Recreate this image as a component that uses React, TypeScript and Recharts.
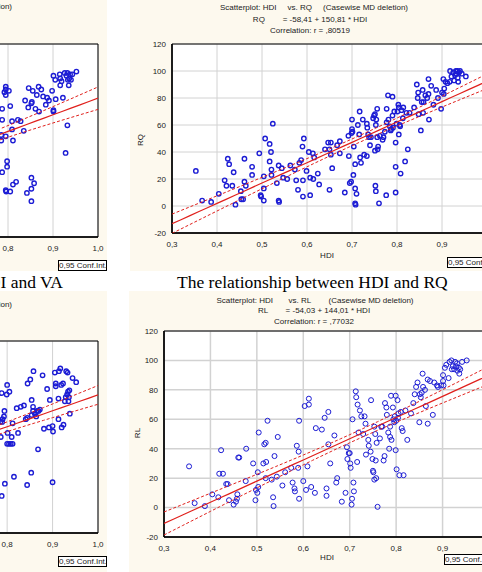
import React from "react";
import { CartesianGrid, ReferenceArea, Scatter, ScatterChart, XAxis, YAxis } from "recharts";

// full-width panels: 1,0 sits on the frame; edge panels only show the top of the range
const X_TICKS = [0.3, 0.4, 0.5, 0.6, 0.7, 0.8, 0.9];
const X_TICKS_EDGE = [0.8, 0.9, 1.0];
const Y_TICKS = [-20, 0, 20, 40, 60, 80, 100, 120];

// HDI vs VA (only the upper HDI range of this panel is on the page)
const hdiVA = [
  0.787, 0.787, 0.795, 0.792, 0.795, 0.802, 0.795, 0.785, 0.785, 0.795, 0.805, 0.809, 0.809, 0.811, 0.798,
  0.798, 0.787, 0.795, 0.796, 0.805, 0.811, 0.818, 0.822, 0.828, 0.835, 0.838, 0.846, 0.845, 0.852, 0.853,
  0.855, 0.861, 0.864, 0.868, 0.869, 0.874, 0.878, 0.884, 0.887, 0.891, 0.898, 0.901, 0.901, 0.901, 0.905,
  0.906, 0.915, 0.916, 0.919, 0.916, 0.922, 0.926, 0.93, 0.932, 0.933, 0.936, 0.935, 0.938, 0.94, 0.943,
  0.952, 0.932, 0.928, 0.842, 0.852, 0.858, 0.852, 0.852,
];
const va = [
  73, 65, 89, 85, 83, 86, 87, 54, 50, 53, 75, 64, 58, 50, 35,
  31, 27, 14, 13, 13, 18, 20, 65, 64, 57, 79, 88, 74, 77, 78,
  86, 73, 83, 89, 71, 87, 82, 76, 81, 79, 86, 97, 72, 71, 94,
  80, 98, 95, 93, 90, 81, 99, 97, 99, 94, 95, 90, 98, 94, 98,
  100, 61, 41, 12, 23, 19, 15, 6,
];
const VA_FIT = { a: -39.8, b: 120.5 };
const VA_BAND = { n: 180, mean: 0.72, sxx: 3.6, s: 25 };

// HDI vs RQ
const hdiRQ = [
  0.353, 0.367, 0.387, 0.404, 0.417, 0.421, 0.424, 0.427, 0.434, 0.437, 0.441, 0.453, 0.454, 0.458, 0.461,
  0.461, 0.464, 0.478, 0.478, 0.494, 0.497, 0.498, 0.504, 0.504, 0.504, 0.507, 0.517, 0.517, 0.52, 0.521,
  0.521, 0.524, 0.533, 0.537, 0.537, 0.538, 0.544, 0.547, 0.556, 0.563, 0.573, 0.576, 0.58, 0.583, 0.587,
  0.59, 0.591, 0.591, 0.593, 0.599, 0.604, 0.607, 0.607, 0.613, 0.614, 0.616, 0.624, 0.627, 0.64, 0.647,
  0.65, 0.65, 0.653, 0.653, 0.656, 0.667, 0.673, 0.673, 0.684, 0.692, 0.693, 0.695, 0.698, 0.699, 0.7,
  0.7, 0.701, 0.703, 0.704, 0.707, 0.707, 0.707, 0.708, 0.71, 0.713, 0.716, 0.717, 0.718, 0.72, 0.724,
  0.727, 0.733, 0.733, 0.734, 0.736, 0.738, 0.74, 0.742, 0.747, 0.749, 0.751, 0.751, 0.752, 0.753, 0.753,
  0.754, 0.756, 0.756, 0.757, 0.758, 0.76, 0.762, 0.768, 0.77, 0.773, 0.776, 0.777, 0.777, 0.78, 0.781,
  0.784, 0.786, 0.787, 0.79, 0.79, 0.791, 0.794, 0.797, 0.797, 0.797, 0.799, 0.801, 0.803, 0.804, 0.804,
  0.806, 0.807, 0.808, 0.81, 0.813, 0.814, 0.818, 0.821, 0.824, 0.828, 0.838, 0.844, 0.846, 0.847, 0.848,
  0.853, 0.855, 0.857, 0.858, 0.859, 0.863, 0.867, 0.87, 0.87, 0.871, 0.876, 0.881, 0.887, 0.891, 0.898,
  0.9, 0.903, 0.904, 0.905, 0.908, 0.912, 0.917, 0.918, 0.921, 0.925, 0.927, 0.929, 0.931, 0.932, 0.934,
  0.935, 0.936, 0.938, 0.94, 0.944, 0.953,
];
const rq = [
  26, 4, 3, 9, 19, 15, 35, 31, 15, 25, 1, 11, 5, 5, 35,
  18, 15, 29, 23, 39, 8, 7, 22, 13, 4, 50, 46, 33, 40, 27,
  23, 61, 17, 30, 4, 3, 28, 21, 20, 30, 27, 19, 12, 32, 34,
  44, 19, 7, 50, 26, 40, 8, 21, 39, 20, 36, 24, 16, 42, 47,
  42, 12, 47, 38, 28, 45, 48, 39, 10, 52, 37, 17, 18, 54, 64,
  57, 55, 23, 44, 31, 13, 2, 1, 9, 60, 53, 70, 36, 32, 64,
  38, 37, 61, 58, 53, 51, 45, 51, 65, 67, 68, 41, 15, 11, 60,
  64, 51, 72, 42, 44, 2, 52, 49, 51, 55, 8, 72, 62, 82, 64,
  59, 56, 57, 81, 67, 58, 70, 47, 29, 10, 61, 70, 75, 73, 53,
  60, 59, 24, 71, 65, 73, 33, 69, 42, 69, 73, 90, 80, 84, 68,
  56, 77, 86, 69, 77, 82, 80, 83, 94, 64, 89, 75, 86, 80, 72,
  84, 94, 83, 87, 92, 91, 92, 100, 96, 99, 93, 97, 100, 98, 100,
  95, 92, 99, 100, 98, 96,
];
const RQ_FIT = { a: -58.41, b: 150.81 };

// HDI vs the lower-left indicator (only its upper HDI range is on the page)
const hdiGE = [
  0.788, 0.799, 0.8, 0.805, 0.794, 0.793, 0.79, 0.785, 0.789, 0.801, 0.81, 0.8, 0.804, 0.808, 0.812,
  0.786, 0.795, 0.815, 0.788, 0.812, 0.821, 0.824, 0.83, 0.837, 0.845, 0.841, 0.844, 0.851, 0.854, 0.858,
  0.857, 0.854, 0.857, 0.861, 0.864, 0.866, 0.869, 0.872, 0.868, 0.878, 0.881, 0.888, 0.892, 0.894, 0.9,
  0.901, 0.9, 0.905, 0.907, 0.907, 0.913, 0.914, 0.917, 0.913, 0.919, 0.923, 0.92, 0.924, 0.927, 0.929,
  0.93, 0.932, 0.933, 0.934, 0.935, 0.936, 0.937, 0.938, 0.944, 0.952, 0.844, 0.853,
];
const ge = [
  82, 81, 88, 83, 69, 65, 63, 61, 61, 53, 50, 45, 45, 45, 45,
  50, 16, 21, 7, 60, 71, 53, 72, 73, 89, 63, 64, 92, 77, 98,
  72, 66, 69, 67, 65, 69, 69, 70, 41, 95, 56, 85, 57, 77, 58,
  54, 17, 97, 89, 87, 63, 98, 100, 78, 88, 89, 57, 59, 76, 79,
  98, 81, 97, 83, 76, 79, 84, 67, 93, 90, 15, 24,
];
const GE_FIT = { a: -35.3, b: 116.0 };
const GE_BAND = { n: 180, mean: 0.72, sxx: 3.6, s: 21 };

// HDI vs RL
const hdiRL = [
  0.354, 0.366, 0.388, 0.404, 0.417, 0.419, 0.423, 0.427, 0.434, 0.437, 0.44, 0.45, 0.455, 0.457, 0.458,
  0.46, 0.462, 0.476, 0.477, 0.492, 0.497, 0.498, 0.501, 0.502, 0.503, 0.504, 0.514, 0.516, 0.519, 0.52,
  0.519, 0.523, 0.532, 0.535, 0.536, 0.538, 0.543, 0.545, 0.555, 0.561, 0.574, 0.577, 0.581, 0.582, 0.586,
  0.589, 0.59, 0.591, 0.591, 0.6, 0.603, 0.606, 0.609, 0.612, 0.612, 0.617, 0.625, 0.627, 0.64, 0.646,
  0.65, 0.65, 0.654, 0.654, 0.658, 0.667, 0.671, 0.673, 0.683, 0.691, 0.694, 0.695, 0.698, 0.7, 0.701,
  0.702, 0.704, 0.705, 0.706, 0.708, 0.709, 0.713, 0.714, 0.716, 0.717, 0.719, 0.722, 0.725, 0.729, 0.732,
  0.734, 0.735, 0.74, 0.741, 0.745, 0.746, 0.749, 0.75, 0.751, 0.753, 0.753, 0.755, 0.756, 0.757, 0.758,
  0.76, 0.765, 0.768, 0.77, 0.773, 0.775, 0.776, 0.779, 0.78, 0.783, 0.785, 0.787, 0.787, 0.789, 0.79,
  0.793, 0.794, 0.796, 0.797, 0.799, 0.799, 0.8, 0.801, 0.803, 0.804, 0.805, 0.807, 0.81, 0.812, 0.814,
  0.816, 0.82, 0.824, 0.832, 0.837, 0.84, 0.843, 0.846, 0.85, 0.851, 0.853, 0.855, 0.857, 0.858, 0.862,
  0.864, 0.868, 0.868, 0.873, 0.879, 0.882, 0.888, 0.89, 0.897, 0.901, 0.902, 0.901, 0.905, 0.908, 0.913,
  0.915, 0.919, 0.92, 0.922, 0.925, 0.927, 0.929, 0.931, 0.932, 0.935, 0.936, 0.938, 0.942, 0.952,
];
const rl = [
  28, 3, 1, 9, 7, 23, 39, 23, 16, 16, 5, 2, 4, 6, 9,
  34, 34, 18, 40, 30, 5, 12, 10, 24, 14, 51, 30, 43, 44, 31,
  20, 59, 19, 7, 1, 35, 21, 48, 15, 24, 27, 17, 13, 11, 42,
  27, 38, 6, 59, 18, 69, 12, 28, 74, 70, 14, 10, 54, 53, 61,
  13, 8, 65, 43, 30, 49, 17, 20, 4, 10, 41, 33, 37, 37, 30,
  27, 2, 6, 60, 17, 11, 79, 75, 31, 70, 51, 66, 62, 50, 62,
  57, 36, 46, 42, 38, 73, 33, 25, 24, 55, 19, 50, 32, 20, 44,
  0.5, 47, 55, 55, 32, 35, 71, 68, 63, 51, 40, 55, 48, 76, 46,
  68, 60, 58, 62, 39, 76, 59, 26, 73, 61, 64, 22, 65, 54, 52,
  22, 66, 46, 64, 71, 77, 82, 85, 58, 77, 75, 78, 91, 82, 80,
  69, 87, 57, 86, 63, 85, 83, 82, 83, 86, 83, 90, 95, 97, 88,
  99, 100, 94, 96, 94, 99, 96, 98, 93, 95, 91, 94, 99, 100,
];
const RL_FIT = { a: -54.03, b: 144.01 };

const BLUE = "#1c1cd4";
const RED = "#e0201c";
const PANEL = "#fdf9ee";
const SANS = '"Liberation Sans", Arial, sans-serif';
const SERIF = '"Liberation Serif", "Times New Roman", serif';
const T95 = 1.97;

// x positions used to trace the fitted line and its 95% band
const CURVE_X = Array.from({ length: 36 }, (_, i) => 0.3 + i * 0.02);

type Band = { n: number; mean: number; sxx: number; s: number };
type Fit = { a: number; b: number };

function bandFromData(xs: number[], ys: number[], fit: Fit): Band {
  const n = xs.length;
  const mean = xs.reduce((t, v) => t + v, 0) / n;
  const sxx = xs.reduce((t, v) => t + (v - mean) ** 2, 0);
  const sse = xs.reduce((t, v, i) => t + (ys[i] - fit.a - fit.b * v) ** 2, 0);
  return { n, mean, sxx, s: Math.sqrt(sse / (n - 2)) };
}

const fmtX = (v: number) => v.toFixed(1).replace(".", ",");
const TICK = { fontSize: 8, fill: "#222", fontFamily: SANS };

const noDot = () => <g />;

function Plot(props: {
  left: number;
  top: number;
  w: number;
  h: number;
  xs: number[];
  ys: number[];
  fit: Fit;
  band?: Band;
  edge?: boolean;
  r: number;
  sw: number;
  gridW: number;
}) {
  const { left, top, w, h, xs, ys, fit, r, sw, gridW, edge } = props;
  const band = props.band ?? bandFromData(xs, ys, fit);
  const pts = xs.map((x, i) => ({ x, y: ys[i] }));
  const half = (x: number) =>
    T95 * band.s * Math.sqrt(1 / band.n + (x - band.mean) ** 2 / band.sxx);
  const mid = CURVE_X.map((x) => ({ x, y: fit.a + fit.b * x }));
  const hi = CURVE_X.map((x) => ({ x, y: fit.a + fit.b * x + half(x) }));
  const lo = CURVE_X.map((x) => ({ x, y: fit.a + fit.b * x - half(x) }));

  const ring = (p: any) => (
    <circle cx={p.cx} cy={p.cy} r={r} fill="none" stroke={BLUE} strokeWidth={sw} />
  );

  return (
    <div style={{ position: "absolute", left: left - 36, top: top - 10 }}>
      <ScatterChart width={w + 46} height={h + 34} margin={{ top: 10, right: 10, bottom: 0, left: 0 }}>
        <CartesianGrid stroke="#d2d2d2" strokeWidth={gridW} fill="#fff" />
        <XAxis
          type="number"
          dataKey="x"
          domain={[0.3, 1.0]}
          ticks={edge ? X_TICKS_EDGE : X_TICKS}
          allowDataOverflow
          height={24}
          tickFormatter={fmtX}
          tick={TICK}
          tickLine={false}
          tickSize={4}
          tickMargin={4}
          axisLine={{ stroke: "#000", strokeWidth: 1.5 }}
        />
        <YAxis
          type="number"
          dataKey="y"
          domain={[-20, 120]}
          ticks={Y_TICKS}
          allowDataOverflow
          width={36}
          tick={edge ? false : TICK}
          tickLine={false}
          tickSize={3}
          tickMargin={3}
          axisLine={{ stroke: "#000", strokeWidth: 1.5 }}
        />
        <ReferenceArea x1={0.3} x2={1.0} y1={-20} y2={120} fill="none" stroke="#000" strokeWidth={1} ifOverflow="visible" />
        <Scatter data={pts} shape={ring} isAnimationActive={false} />
        <Scatter data={mid} shape={noDot} line={{ stroke: RED, strokeWidth: 1.2 }} isAnimationActive={false} />
        <Scatter data={hi} shape={noDot} line={{ stroke: RED, strokeWidth: 1, strokeDasharray: "3 2" }} isAnimationActive={false} />
        <Scatter data={lo} shape={noDot} line={{ stroke: RED, strokeWidth: 1, strokeDasharray: "3 2" }} isAnimationActive={false} />
      </ScatterChart>
    </div>
  );
}

const small: React.CSSProperties = {
  position: "absolute",
  fontFamily: SANS,
  fontSize: 8,
  lineHeight: "10px",
  color: "#222",
  whiteSpace: "pre",
};

function Centered({ x, y, text }: { x: number; y: number; text: string }) {
  return <div style={{ ...small, left: x - 150, top: y - 5, width: 300, textAlign: "center" }}>{text}</div>;
}

function ConfBox({ x, y }: { x: number; y: number }) {
  return (
    <div
      style={{
        ...small,
        left: x,
        top: y,
        width: 49,
        height: 11,
        boxSizing: "border-box",
        border: "1px solid #000",
        background: "#fff",
        lineHeight: "9px",
        textAlign: "center",
      }}
    >
      0,95 Conf.Int.
    </div>
  );
}

const caption: React.CSSProperties = {
  position: "absolute",
  fontFamily: SERIF,
  fontSize: 17.5,
  lineHeight: "20px",
  color: "#000",
  whiteSpace: "nowrap",
};

export default function App() {
  return (
    <div style={{ position: "absolute", left: 0, top: 0, width: 482, height: 572, overflow: "hidden", background: "#fff" }}>
      <div style={{ position: "absolute", left: 0, top: 0, width: 107, height: 271, background: PANEL }} />
      <div style={{ position: "absolute", left: 130, top: 0, width: 352, height: 271, background: PANEL }} />
      <div style={{ position: "absolute", left: 0, top: 291, width: 107, height: 281, background: PANEL }} />
      <div style={{ position: "absolute", left: 129, top: 291, width: 353, height: 281, background: PANEL }} />

      <Plot left={-217} top={44} w={315} h={193} xs={hdiVA} ys={va} fit={VA_FIT} band={VA_BAND} edge r={2.2} sw={1.4} gridW={1} />
      <Plot left={172} top={44} w={315} h={189} xs={hdiRQ} ys={rq} fit={RQ_FIT} r={2.2} sw={1.4} gridW={1} />
      <Plot left={-220} top={341} w={318} h={192} xs={hdiGE} ys={ge} fit={GE_FIT} band={GE_BAND} edge r={2.2} sw={1.4} gridW={1} />
      <Plot left={164} top={331} w={325} h={206} xs={hdiRL} ys={rl} fit={RL_FIT} r={2.5} sw={1} gridW={1.5} />

      {/* headers of the two edge panels end near the left border */}
      <div style={{ ...small, right: 482 - 12, top: 2, textAlign: "right" }}>
        {"Scatterplot: HDI     vs. VA     (Casewise MD deletion)"}
      </div>
      <div style={{ ...small, right: 482 - 12, top: 300, textAlign: "right" }}>
        {"Scatterplot: HDI     vs. GE     (Casewise MD deletion)"}
      </div>

      <Centered x={314} y={8} text={"Scatterplot: HDI     vs. RQ     (Casewise MD deletion)"} />
      <Centered x={310} y={20} text={"RQ        = -58,41 + 150,81 * HDI"} />
      <Centered x={310} y={31} text={"Correlation: r = ,80519"} />

      <Centered x={315} y={301} text={"Scatterplot: HDI       vs. RL        (Casewise MD deletion)"} />
      <Centered x={314} y={311} text={"RL        = -54,03 + 144,01 * HDI"} />
      <Centered x={314} y={322} text={"Correlation: r = ,77032"} />

      <div style={{ ...small, left: 131, top: 135, width: 20, textAlign: "center", transform: "rotate(-90deg)" }}>RQ</div>
      <div style={{ ...small, left: 128, top: 428, width: 20, textAlign: "center", transform: "rotate(-90deg)" }}>RL</div>
      <Centered x={327} y={256} text="HDI" />
      <Centered x={327} y={558} text="HDI" />

      <ConfBox x={58} y={260} />
      <ConfBox x={447} y={257} />
      <ConfBox x={58} y={556} />
      <ConfBox x={444} y={554} />

      <div style={{ ...caption, right: 482 - 63, top: 272 }}>The relationship between HDI and VA</div>
      <div style={{ ...caption, left: 177, top: 272 }}>The relationship between HDI and RQ</div>
    </div>
  );
}
